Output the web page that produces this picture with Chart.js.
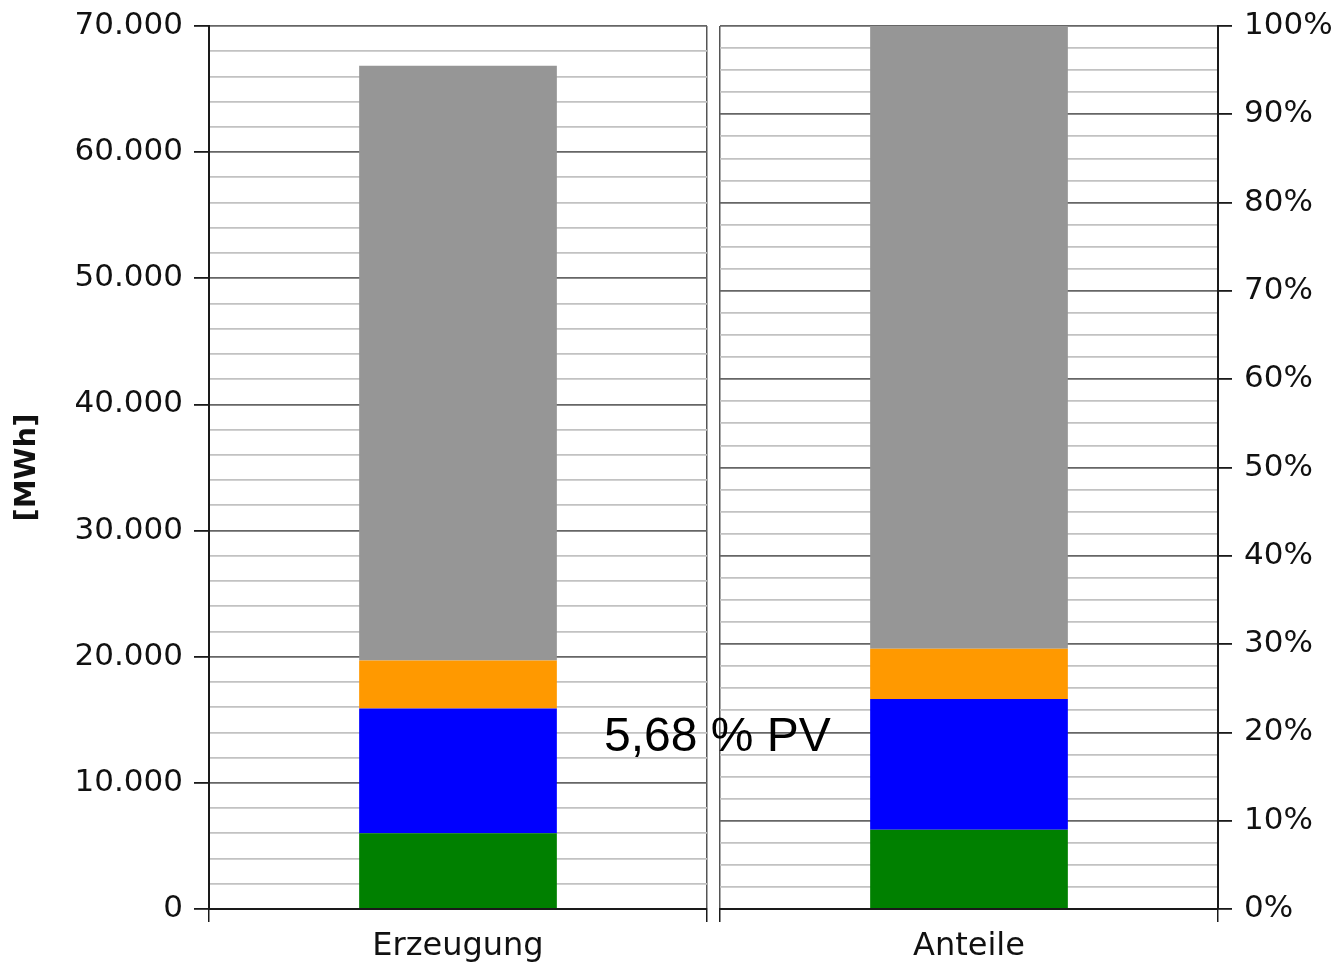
<!DOCTYPE html>
<html>
<head>
<meta charset="utf-8">
<script src="https://cdn.jsdelivr.net/npm/chart.js@4/dist/chart.umd.min.js"></script>
<style>
    body { margin: 0; background: #fff; }
    #wrap { position: relative; width: 1335px; height: 969px; }
    #leftBox { position: absolute; left: 0; top: 0; width: 714px; height: 969px; }
    #rightBox { position: absolute; left: 714px; top: 0; width: 621px; height: 969px; }
    #pvNote {
        position: absolute; left: 604px; top: 711px;
        font-family: "Liberation Sans", Arial, sans-serif;
        font-size: 48px; line-height: 48px; color: #000; white-space: nowrap;
    }
</style>
</head>
<body>
<div id="wrap">
    <div id="leftBox"><canvas id="erzeugungChart"></canvas></div>
    <div id="rightBox"><canvas id="anteileChart"></canvas></div>
    <div id="pvNote">5,68 % PV</div>
</div>
<script>
// data
const leftCategory = ["Erzeugung"];
const rightCategory = ["Anteile"];
const seriesNames = ["Serie 1", "Serie 2", "PV", "Serie 4"];
const erzeugungMWh = [6000, 9900, 3800, 47150];
const anteileProzent = [8.97, 14.81, 5.68, 70.54];
const mwhTicks = [0, 10000, 20000, 30000, 40000, 50000, 60000, 70000];
const prozentTicks = [0, 10, 20, 30, 40, 50, 60, 70, 80, 90, 100];

const seriesColors = ["#008000", "#0000ff", "#ff9900", "#969696"];

Chart.defaults.font.family = "'DejaVu Sans', sans-serif";
Chart.defaults.color = "#000";

function makeDatasets(values) {
    var sets = [];
    for (var i = 0; i < values.length; i++) {
        sets.push({
            label: seriesNames[i],
            data: [values[i]],
            backgroundColor: seriesColors[i],
            borderWidth: 0,
            barPercentage: 0.397,
            categoryPercentage: 1
        });
    }
    return sets;
}

function isMajor(ctx, majorList) {
    return ctx.tick && majorList.indexOf(ctx.tick.value) >= 0;
}
function gridColor(majorList) {
    return function (ctx) { return isMajor(ctx, majorList) ? "#666" : "#c2c2c2"; };
}
function tickColor(majorList) {
    return function (ctx) { return isMajor(ctx, majorList) ? "#1a1a1a" : "transparent"; };
}

// fixed axis sizes so both panels line up with the picture
function fixYAxis(width) {
    return function (scale) {
        scale.width = width;
        scale.paddingTop = 0;
        scale.paddingBottom = 0;
    };
}

const xAxisBase = {
    stacked: true,
    offset: true,
    border: { color: "#1a1a1a", width: 2 },
    grid: { offset: true, color: "#555", tickColor: "#1a1a1a", tickLength: 13, lineWidth: 1.5 },
    ticks: { font: { size: 32 }, padding: 5, maxRotation: 0, color: "#111" },
    afterFit: function (scale) { scale.height = 60; }
};

new Chart("erzeugungChart", {
    type: "bar",
    data: { labels: leftCategory, datasets: makeDatasets(erzeugungMWh) },
    options: {
        responsive: true,
        maintainAspectRatio: false,
        animation: false,
        layout: { padding: { top: 26, right: 7, left: 0, bottom: 0 } },
        plugins: { legend: { display: false }, tooltip: { enabled: false } },
        scales: {
            x: Object.assign({}, xAxisBase),
            y: {
                stacked: true,
                min: 0,
                max: 70000,
                border: { color: "#1a1a1a", width: 2 },
                grid: { color: gridColor(mwhTicks), tickColor: tickColor(mwhTicks), tickLength: 15, lineWidth: 1.8 },
                ticks: {
                    stepSize: 2000,
                    autoSkip: false,
                    padding: 11,
                    font: { size: 31 },
                    color: "#111",
                    callback: function (v) {
                        if (mwhTicks.indexOf(v) < 0) return "";
                        return v.toLocaleString("de-DE");
                    }
                },
                title: {
                    display: true,
                    text: "[MWh]",
                    font: { size: 29, weight: "bold" },
                    color: "#111",
                    padding: { top: 10, bottom: 0 }
                },
                afterFit: fixYAxis(209)
            }
        }
    }
});

new Chart("anteileChart", {
    type: "bar",
    data: { labels: rightCategory, datasets: makeDatasets(anteileProzent) },
    options: {
        responsive: true,
        maintainAspectRatio: false,
        animation: false,
        layout: { padding: { top: 26, right: 0, left: 6, bottom: 0 } },
        plugins: { legend: { display: false }, tooltip: { enabled: false } },
        scales: {
            x: Object.assign({}, xAxisBase),
            y: {
                position: "right",
                stacked: true,
                min: 0,
                max: 100,
                border: { color: "#1a1a1a", width: 2 },
                grid: { color: gridColor(prozentTicks), tickColor: tickColor(prozentTicks), tickLength: 14, lineWidth: 1.8 },
                ticks: {
                    stepSize: 2.5,
                    autoSkip: false,
                    padding: 12,
                    font: { size: 31 },
                    color: "#111",
                    callback: function (v) {
                        if (prozentTicks.indexOf(v) < 0) return "";
                        return v + "%";
                    }
                },
                afterFit: fixYAxis(117)
            }
        }
    }
});
</script>
</body>
</html>
